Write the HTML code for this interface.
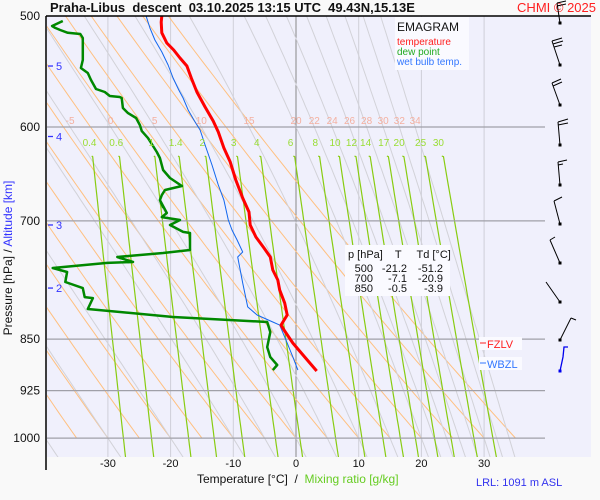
<!DOCTYPE html>
<html><head><meta charset="utf-8"><style>
body{margin:0;background:#f9f9f9;}
svg{display:block;font-family:"Liberation Sans",sans-serif;}
</style></head><body>
<svg id="chart" width="600" height="500" viewBox="0 0 600 500">
<defs><clipPath id="pc"><rect x="47" y="16" width="498" height="441"/></clipPath></defs>
<rect x="0" y="0" width="600" height="500" fill="#f9f9f9"/>
<rect x="47" y="16" width="544" height="441" fill="#f0f0fc"/>
<g id="grid" clip-path="url(#pc)"></g>
<g id="series" clip-path="url(#pc)"></g>
<g id="labels"></g>
<line x1="46" y1="16" x2="46" y2="470" stroke="#000" stroke-width="1.5"/>
<line x1="46" y1="16" x2="591" y2="16" stroke="#000" stroke-width="1.5"/>
<text x="50" y="12" font-size="13" font-weight="bold" fill="#111" xml:space="preserve">Praha-Libus  descent  03.10.2025 13:15 UTC  49.43N,15.13E</text>
<text x="596" y="12" font-size="13" fill="#ff2020" text-anchor="end">CHMI © 2025</text>
<text transform="translate(12,258) rotate(-90)" font-size="12" text-anchor="middle"><tspan fill="#111">Pressure [hPa]  /  </tspan><tspan fill="#3333ff">Altitude [km]</tspan></text>
<text x="197" y="483" font-size="12" fill="#111" xml:space="preserve">Temperature [°C]  /  <tspan fill="#66cc22">Mixing ratio [g/kg]</tspan></text>
<text x="476" y="486" font-size="11" fill="#3333ee">LRL: 1091 m ASL</text>
<g>
<rect x="395" y="17" width="74" height="53" fill="#fafaff"/>
<text x="397" y="31" font-size="12" fill="#111">EMAGRAM</text>
<text x="397" y="45" font-size="10" fill="#ff2020">temperature</text>
<text x="397" y="55" font-size="10" fill="#22aa22">dew point</text>
<text x="397" y="65" font-size="10" fill="#3377ff">wet bulb temp.</text>
</g>
<g font-size="11" fill="#111">
<rect x="345" y="245" width="105" height="51" fill="#fafaff"/>
<text x="348" y="258" xml:space="preserve">p [hPa]    T     Td [°C]</text>
<text x="373" y="272" text-anchor="end">500</text><text x="407" y="272" text-anchor="end">-21.2</text><text x="443" y="272" text-anchor="end">-51.2</text>
<text x="373" y="282" text-anchor="end">700</text><text x="407" y="282" text-anchor="end">-7.1</text><text x="443" y="282" text-anchor="end">-20.9</text>
<text x="373" y="292" text-anchor="end">850</text><text x="407" y="292" text-anchor="end">-0.5</text><text x="443" y="292" text-anchor="end">-3.9</text>
</g>
<g>
<rect x="479" y="337" width="43" height="13" fill="#fafaff"/>
<line x1="480" y1="343" x2="486" y2="343" stroke="#ff2020"/>
<text x="487" y="348" font-size="11" fill="#ff2020">FZLV</text>
</g>
<g>
<rect x="479" y="357" width="43" height="13" fill="#fafaff"/>
<line x1="480" y1="363" x2="486" y2="363" stroke="#3377ff"/>
<text x="487" y="368" font-size="11" fill="#3377ff">WBZL</text>
</g>
<g id="barbs"></g>
</svg>
<script>
// ---- data ----
const presTicks = [500, 600, 700, 850, 925, 1000];
const tempTicks = [-30, -20, -10, 0, 10, 20, 30];
const altKm = [5, 4, 3, 2];
const altPres = [542.8, 609.4, 704.7, 781.6];
const tempP = [500,505,514,522.7,528.7,535.7,542.8,553.6,566.5,580.6,594.1,604.9,621.0,635.4,654.5,674.2,689.8,704.7,718.7,731.8,742.7,758.8,771.3,784.2,801.1,817.0,830.6,837.4,855.5,875.4,895.7];
const tempT = [-21.4,-21.5,-21.4,-20.6,-19.5,-18.5,-17.4,-16.7,-15.8,-14.5,-13.2,-12.4,-11.5,-10.5,-9.6,-8.5,-7.5,-7.3,-6.4,-5.1,-4.1,-3.7,-2.9,-2.6,-1.8,-1.4,-2.4,-1.9,-0.5,1.4,3.3];
const dewP = [504.1,508.3,509.9,511.6,514,515.0,518.4,537.5,544.6,549.1,555.4,563.7,566.5,570.2,571.1,572.1,581.5,586.4,591.2,598.1,604.0,611.0,618.0,625.1,631.3,643.9,652.4,661.0,665.4,670.9,676.5,684.3,676.5,691.0,695.6,699.0,704.7,712.8,714.0,734.2,737.9,742.7,748.8,750.0,756.3,761.3,773.9,781.6,793.3,794.6,809.0,819.7,826.4,840.2,861.1,875.4,886.9,894.3];
const dewT = [-37.2,-38.9,-38.4,-37.6,-36.4,-34.4,-34.0,-34.0,-34.3,-33.2,-32.7,-31.9,-30.5,-29.7,-28.1,-27.8,-27.6,-26.8,-25.5,-24.9,-24.6,-23.6,-22.9,-22.2,-21.7,-21.2,-20.1,-18.2,-20.9,-21.4,-21.7,-21.2,-21.7,-20.6,-21.4,-18.5,-20.1,-18.0,-16.9,-16.9,-21.2,-28.5,-26.0,-30.1,-38.8,-36.5,-36.8,-34.0,-33.7,-32.4,-33.2,-19.6,-4.6,-4.1,-4.6,-4.1,-3.0,-3.7];
const wbP = [500,509.9,520.1,530.4,541.9,553.6,564.6,572.1,583.5,595.1,602.9,618.0,638.6,659.9,676.5,699.0,710.5,722.3,736.7,742.7,758.8,775.1,806.2,817.0,826.4,830.6,855.5,875.4,894.3];
const wbT = [-23.9,-23.3,-22.5,-21.4,-20.4,-19.6,-18.7,-18.0,-17.2,-16.1,-15.3,-14.5,-13.4,-12.4,-11.5,-10.8,-10.2,-9.4,-8.5,-9.3,-8.9,-8.5,-7.7,-6.2,-3.7,-2.6,-1.4,-0.5,0.3];
const mixRatios = [0.4,0.6,1,1.4,2,3,4,6,8,10,12,14,17,20,25,30];
const moistThetaW = [-40,-30,-20,-10,-5,0,5,10,15,20,22,24,26,28,30,32,34];
const moistLabels = [-5,0,5,10,15,20,22,24,26,28,30,32,34];
const dryTheta = [-40,-35,-30,-25,-20,-15,-10,-5,0,5,10,15,20,25,30,35];

// ---- scales ----
function X(T){ return 296 + T*6.27; }
function Y(p){ return 16 + 609*Math.log(p/500); }
const NS='http://www.w3.org/2000/svg';
function mk(tag, attrs, parent){ const e=document.createElementNS(NS,tag); for(const k in attrs) e.setAttribute(k,attrs[k]); parent.appendChild(e); return e; }
const grid=document.getElementById('grid'), ser=document.getElementById('series'), lab=document.getElementById('labels'), barbs=document.getElementById('barbs');
function es(Tc){ return 6.112*Math.exp(17.67*Tc/(Tc+243.5)); }
function pathFrom(pts){ return pts.map((q,i)=>(i?'L':'M')+q[0].toFixed(1)+' '+q[1].toFixed(1)).join(' '); }

// isotherms
tempTicks.forEach(t=>{
  const l=mk('line',{x1:X(t),y1:16,x2:X(t),y2:457,stroke:t===0?'#888':'#cfcfd8','stroke-width':1},grid);
  
  
  const tx=mk('text',{x:X(t),y:467,'font-size':11,'text-anchor':'middle',fill:'#111'},lab);
  tx.textContent=t;
  
  
});
// dry adiabats
dryTheta.forEach(th=>{
  const pts=[]; for(let p=500;p<=1000;p+=10){ pts.push([X((th+273.15)*Math.pow(p/1000,0.2857)-273.15),Y(p)]); }
  const e=mk('path',{d:pathFrom(pts),fill:'none',stroke:'#ffc080','stroke-width':1},grid);
  
  
});
// moist adiabats
function moistPts(tw){
  const Rd=287.04,cp=1005.7,L=2.501e6,eps=0.622;
  function dTdp(p,T){ const Tc=T-273.15; const e=es(Tc); const rs=eps*e/(p-e); return (Rd*T+L*rs)/(p*(cp+L*L*rs*eps/(Rd*T*T))); }
  const up=[], dn=[]; let T=tw+273.15;
  for(let p=1000;p>=495;p-=5){ up.push([X(T-273.15),Y(p)]); T-=5*dTdp(p,T); }
  T=tw+273.15;
  for(let p=1000;p<=1050;p+=5){ dn.push([X(T-273.15),Y(p)]); T+=5*dTdp(p,T); }
  return up.reverse().concat(dn.slice(1));
}
moistThetaW.forEach(tw=>{
  const e=mk('path',{d:pathFrom(moistPts(tw)),fill:'none',stroke:'#d2d2d8','stroke-width':1},grid);
  
  
});
// mixing ratio lines
mixRatios.forEach(w=>{
  const pts=[]; for(let p=620;p<=1050;p+=10){ const e=w*p/(622+w); const a=Math.log(e/6.112); pts.push([X(243.5*a/(17.67-a)),Y(p)]); }
  pts[0][1]=156;
  const e=mk('path',{d:pathFrom(pts),fill:'none',stroke:'#88cc11','stroke-width':1.2},grid);
  
  
  const e6=w*600/(622+w), a=Math.log(e6/6.112);
  const t=mk('text',{x:X(243.5*a/(17.67-a)),y:146,'font-size':10,'text-anchor':'middle',fill:'#99dd33'},lab);
  t.textContent=w;
  
  
});
// moist adiabat labels at 600 hPa
moistLabels.forEach(tw=>{
  const pts=moistPts(tw); const yy=Y(600); let xx=pts[0][0];
  for(let i=1;i<pts.length;i++){ if(pts[i][1]>=yy){ const a=pts[i-1],b=pts[i]; xx=a[0]+(b[0]-a[0])*(yy-a[1])/(b[1]-a[1]); break; } }
  const t=mk('text',{x:xx,y:124,'font-size':10,'text-anchor':'middle',fill:'#f4b0a0'},lab);
  t.textContent=tw;
  
  
});
// isobars
presTicks.forEach(p=>{
  if(p>500){ const l=mk('line',{x1:47,y1:Y(p),x2:545,y2:Y(p),stroke:'#a0a0a8','stroke-width':1.2},grid);
    
     }
  const t=mk('text',{x:40,y:Y(p)+4,'font-size':12,'text-anchor':'end',fill:'#111'},lab);
  t.textContent=p;
  
  
});
// altitude ticks
altKm.forEach((k,i)=>{
  const y=Y(altPres[i]);
  const l=mk('line',{x1:48,y1:y,x2:53,y2:y,stroke:'#3333ff','stroke-width':1.3},lab);
  
  
  const t=mk('text',{x:56,y:y+4,'font-size':11,fill:'#3333ff'},lab);
  t.textContent=k;
  
  
});
// series
function line(P,T,color,w,name){
  const e=mk('path',{d:pathFrom(P.map((p,i)=>[X(T[i]),Y(p)])),fill:'none',stroke:color,'stroke-width':w,'stroke-linejoin':'round'},ser);
  
  
}
line(wbP,wbT,'#1166ee',1,'wet-bulb-line');
line(dewP,dewT,'#008800',2.5,'dew-point-line');
line(tempP,tempT,'#ff0000',3,'temperature-line');
// wind barbs (dot, staff top, barb segments)
const barbDefs=[
 [23,[557,3],[[557,3,566,1],[557,6,566,4]]],
 [65,[552,41],[[552,41,562,38],[553,44,563,41],[554,47,562,45]]],
 [105,[552,83],[[552,83,561,79],[553,86,562,82]]],
 [145,[558,122],[[558,122,568,119],[558,125,568,123]]],
 [185,[558,162],[[558,162,567,160],[558,165,563,164]]],
 [224,[554,201],[[554,201,562,197]]],
 [263,[550,240],[[550,240,555,237]]],
 [302,[546,282],[]],
 [340,[571,318],[[571,318,576,320]]]
];
barbDefs.forEach(b=>{
  const g=mk('g',{},barbs);
  
  
  mk('line',{x1:560,y1:b[0],x2:b[1][0],y2:b[1][1],stroke:'#000','stroke-width':1},g);
  b[2].forEach(s=>mk('line',{x1:s[0],y1:s[1],x2:s[2],y2:s[3],stroke:'#000','stroke-width':1},g));
  mk('rect',{x:558.5,y:b[0]-1.5,width:3,height:3,fill:'#000'},g);
});
const gb=mk('g',{},barbs);


mk('polyline',{points:'560,371 563,357 564,347 568,347',fill:'none',stroke:'#0000ee','stroke-width':1.3},gb);
mk('rect',{x:558.5,y:369.5,width:3,height:3,fill:'#0000ee'},gb);
</script>
</body></html>
